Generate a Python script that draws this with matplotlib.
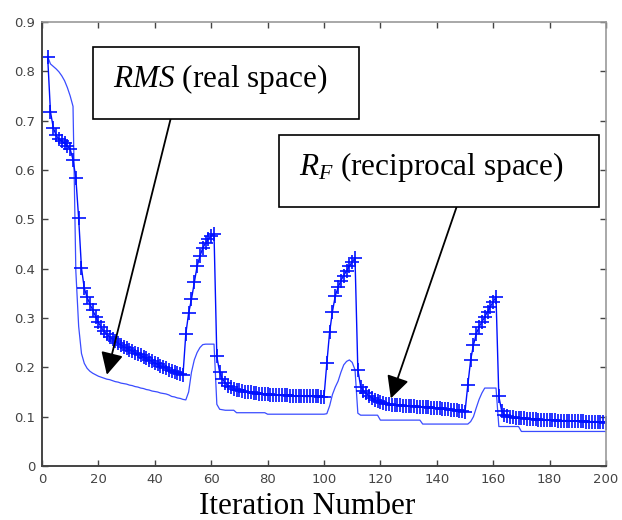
import matplotlib
matplotlib.use('Agg')
import matplotlib.pyplot as plt
import numpy as np
from matplotlib.patches import Rectangle

plt.rcParams['mathtext.fontset'] = 'custom'
plt.rcParams['mathtext.rm'] = 'Liberation Serif'
plt.rcParams['mathtext.it'] = 'Liberation Serif:italic'

# iteration numbers
iters = np.arange(2, 201)

# R_F (reciprocal space), line with markers
rf = ([0.830, 0.718, 0.686, 0.670, 0.663, 0.658, 0.654, 0.649, 0.642, 0.621,
       0.584, 0.502, 0.401, 0.360, 0.342, 0.328, 0.316, 0.303, 0.291, 0.281,
       0.273, 0.267, 0.262, 0.257, 0.253, 0.249, 0.245, 0.242, 0.239, 0.236,
       0.233, 0.230, 0.227, 0.224, 0.221, 0.218, 0.215, 0.212, 0.209, 0.206,
       0.203, 0.200, 0.198, 0.195, 0.193, 0.191, 0.189, 0.187, 0.185]
      + [0.268, 0.310, 0.338, 0.372, 0.405, 0.425, 0.442, 0.452, 0.460, 0.466,
         0.471, 0.222, 0.190, 0.176, 0.168, 0.163, 0.160, 0.157, 0.155, 0.154,
         0.152, 0.151, 0.150, 0.149, 0.148, 0.147, 0.146, 0.146, 0.145, 0.145,
         0.144, 0.144, 0.144, 0.143, 0.143, 0.143, 0.143, 0.142, 0.142, 0.142,
         0.142, 0.142, 0.141, 0.141, 0.141, 0.141, 0.141, 0.141, 0.140, 0.140]
      + [0.208, 0.272, 0.313, 0.345, 0.362, 0.376, 0.386, 0.396, 0.405, 0.414,
         0.421, 0.195, 0.161, 0.152, 0.147, 0.142, 0.138, 0.134, 0.131, 0.129,
         0.127, 0.126, 0.125, 0.124, 0.124, 0.123, 0.123, 0.122, 0.122, 0.122,
         0.121, 0.121, 0.120, 0.120, 0.120, 0.119, 0.119, 0.118, 0.118, 0.117,
         0.117, 0.116, 0.116, 0.115, 0.114, 0.114, 0.113, 0.112, 0.111, 0.110]
      + [0.164, 0.215, 0.245, 0.268, 0.282, 0.292, 0.302, 0.313, 0.323, 0.333,
         0.343, 0.141, 0.112, 0.104, 0.101, 0.100, 0.099, 0.098, 0.098, 0.097,
         0.097, 0.096, 0.096, 0.095, 0.095, 0.094, 0.094, 0.094, 0.093, 0.093,
         0.093, 0.093, 0.092, 0.092, 0.092, 0.092, 0.092, 0.091, 0.091, 0.091,
         0.091, 0.091, 0.090, 0.090, 0.090, 0.090, 0.090, 0.089, 0.089, 0.088])

# RMS (real space), plain line
rms = ([0.830, 0.815, 0.810, 0.805, 0.799, 0.791, 0.781, 0.767, 0.750, 0.729,
        0.395, 0.283, 0.228, 0.208, 0.198, 0.192, 0.188, 0.185, 0.182, 0.180,
        0.178, 0.176, 0.175, 0.173, 0.171, 0.170, 0.168, 0.167, 0.166, 0.164,
        0.163, 0.161, 0.160, 0.158, 0.157, 0.155, 0.154, 0.152, 0.151, 0.150,
        0.148, 0.147, 0.146, 0.144, 0.141, 0.140, 0.138, 0.137, 0.135]
       + [0.134, 0.150, 0.190, 0.215, 0.230, 0.240, 0.246, 0.247, 0.247, 0.247,
          0.247, 0.125, 0.115, 0.114, 0.113, 0.113, 0.113, 0.113, 0.108, 0.108]
       + [0.108] * 9 + [0.105] * 21
       + [0.106, 0.122, 0.145, 0.160, 0.172, 0.190, 0.205, 0.212, 0.215, 0.210,
          0.195, 0.107] + [0.103] * 7 + [0.093] * 15 + [0.085] * 16
       + [0.085, 0.090, 0.100, 0.118, 0.135, 0.148, 0.158, 0.158, 0.158, 0.158,
          0.158, 0.080] + [0.080] * 7 + [0.070] * 31)

assert len(rf) == len(iters) and len(rms) == len(iters)

xticks = np.arange(0, 201, 20)
yticks = np.arange(0, 0.91, 0.1)

fig = plt.figure(figsize=(6.22, 5.2), dpi=100)
ax = fig.add_axes([42/622, 54/520, 564/622, 444/520])

ax.plot(iters, rms, color='#3a4cff', lw=0.9)
ax.plot(iters, rf, color='#0010ff', lw=1.0, marker='+', markersize=9.5, mew=1.2)

ax.set_xlim(0, 200)
ax.set_ylim(0, 0.9)
ax.set_xticks(xticks)
ax.set_yticks(yticks)
ax.set_yticklabels(['0'] + ['%.1f' % v for v in yticks[1:]])
ax.tick_params(direction='in', length=4, width=1, top=True, right=True,
               labelsize=9.5, labelcolor='#444444', color='#444444', pad=5)
for s in ['left', 'bottom']:
    ax.spines[s].set_color('#444444')
    ax.spines[s].set_linewidth(1.4)
for s in ['top', 'right']:
    ax.spines[s].set_color('#999999')
    ax.spines[s].set_linewidth(1.2)

fig.text(307.5/622, 1 - 514/520, 'Iteration Number', ha='center', va='baseline',
         fontsize=22.5, family='Liberation Serif')

# annotation boxes
fig.add_artist(Rectangle((93/622, 1 - 119/520), 266/622, 72/520,
                         transform=fig.transFigure, facecolor='white',
                         edgecolor='black', lw=1.2))
fig.add_artist(Rectangle((279/622, 1 - 207/520), 320/622, 72/520,
                         transform=fig.transFigure, facecolor='white',
                         edgecolor='black', lw=1.2))
fig.text(113/622, 1 - 87/520, '$RMS$ (real space)', ha='left', va='baseline',
         fontsize=22.5, family='Liberation Serif')
fig.text(299/622, 1 - 175/520, '$R_F$ (reciprocal space)', ha='left', va='baseline',
         fontsize=22.5, family='Liberation Serif')

arrow = dict(arrowstyle='-|>,head_length=0.75,head_width=0.38', mutation_scale=18,
             color='black', lw=1.3, shrinkA=0, shrinkB=0)
ax.annotate('', xy=(23, 0.185), xycoords='data',
            xytext=(0.228, 0.7815), textcoords='axes fraction', arrowprops=arrow)
ax.annotate('', xy=(123.7, 0.137), xycoords='data',
            xytext=(0.735, 0.583), textcoords='axes fraction', arrowprops=arrow)

fig.savefig('out.png', dpi=100)
